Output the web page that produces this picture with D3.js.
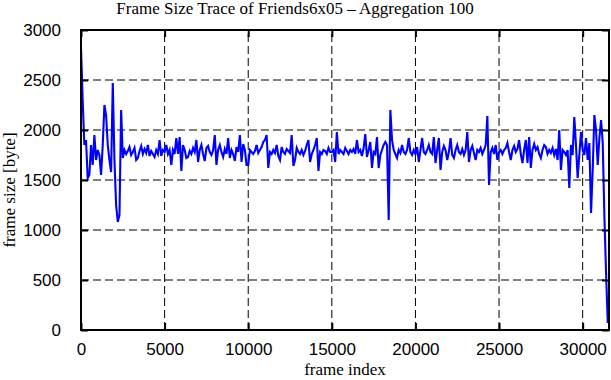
<!DOCTYPE html>
<html>
<head>
  <meta charset="utf-8">
  <title>Frame Size Trace of Friends6x05</title>
  <script src="https://d3js.org/d3.v7.min.js"></script>
  <style>
    body {
      margin: 0;
      background: #fff;
    }
    svg {
      display: block;
      font-family: "Liberation Serif", "DejaVu Serif", serif;
    }
    .grid line {
      stroke: #000;
      stroke-width: 1;
      stroke-dasharray: 8, 4;
    }
    .axis path {
      display: none;
    }
    .axis line {
      stroke: #000;
      stroke-width: 2;
    }
    .axis text {
      font-size: 17px;
      fill: #000;
    }
    .trace {
      fill: none;
      stroke: #0000ff;
      stroke-width: 2.1;
      stroke-linejoin: miter;
    }
  </style>
</head>
<body>
<svg width="611" height="380"></svg>
<script>
  const title = 'Frame Size Trace of Friends6x05 \u2013 Aggregation 100';
  const xLabel = 'frame index';
  const yLabel = 'frame size [byte]';

  // one value per 100 frames
  const aggregation = 100;
  const xTicks = [0, 5000, 10000, 15000, 20000, 25000, 30000];
  const yTicks = [0, 500, 1000, 1500, 2000, 2500, 3000];

  const frameSize = [
    2820, 2300, 1850, 1900, 1520, 1550, 1850, 1650, 1950, 1700,
    1800, 1750, 1550, 1850, 2250, 2150, 1850, 1700, 1580, 2470,
    1700, 1250, 1080, 1150, 2200, 1720, 1800, 1760, 1790, 1830,
    1750, 1780, 1820, 1700, 1720, 1790, 1840, 1760, 1810, 1770,
    1850, 1740, 1790, 1760, 1730, 1800, 1760, 1900, 1740, 1800,
    1780, 1850, 1760, 1800, 1650, 1800, 1760, 1920, 1760, 1930,
    1590, 1850, 1800, 1720, 1730, 1790, 1760, 1820, 1780, 1900,
    1680, 1800, 1850, 1760, 1690, 1820, 1840, 1780, 1750, 1800,
    1950, 1650, 1800, 1850, 1780, 1730, 1810, 1760, 1920, 1720,
    1800, 1760, 1690, 1830, 1780, 1950, 1680, 1860, 1800, 1650,
    1650, 1800, 1780, 1760, 1790, 1850, 1770, 1800, 1830, 1880,
    1900, 1950, 1620, 1780, 1760, 1800, 1770, 1850, 1740, 1700,
    1830, 1780, 1760, 1810, 1790, 1770, 1950, 1640, 1700, 1820,
    1780, 1760, 1800, 1750, 1790, 1850, 1900, 1680, 1760, 1800,
    1850, 1920, 1590, 1780, 1760, 1800, 1790, 1760, 1820, 1780,
    1780, 1800, 1680, 1980, 1760, 1800, 1780, 1760, 1820, 1790,
    1760, 1800, 1780, 1810, 1760, 1900, 1780, 1800, 1740, 1820,
    1960, 1730, 1800, 1880, 1620, 1780, 1760, 1930, 1620, 1750,
    1800, 1850, 1880, 1850, 1100, 2200, 1900, 1800, 1760, 1720,
    1800, 1770, 1850, 1780, 1760, 1800, 1920, 1780, 1750, 1800,
    1760, 1830, 1680, 1800, 1920, 1780, 1760, 1800, 1850, 1780,
    1760, 1930, 1670, 1800, 1920, 1600, 1780, 1840, 1800, 1700,
    1780, 1920, 1750, 1720, 1800, 1850, 1780, 1760, 1810, 1750,
    1800, 1980, 1680, 1800, 1840, 1770, 1700, 1800, 1780, 1820,
    1760, 1800, 1850, 2140, 1450, 1780, 1820, 1760, 1850, 1700,
    1780, 1800, 1760, 1800, 1820, 1870, 1780, 1700, 1800, 1840,
    1780, 1810, 1900, 1760, 1670, 1800, 1900, 1670, 1930, 1620,
    1800, 1860, 1800, 1830, 1760, 1720, 1800, 1850, 1830, 1760,
    1800, 1770, 1820, 1750, 1810, 1700, 2000, 1600, 1800, 1780,
    1750, 1800, 1420, 1850, 1750, 2130, 1850, 1520, 1750, 1980,
    1800, 1750, 1920, 1700, 1870, 1170, 1600, 2150, 2000, 1650,
    1920, 2100, 1870, 1130, 570, 70
  ];

  const svg = d3.select('svg');
  const mLeft = 81, mRight = 609, mTop = 30, mBottom = 330;

  const x = d3.scaleLinear().domain([0, 31575]).range([mLeft, mRight]);
  const y = d3.scaleLinear().domain([0, 3000]).range([mBottom, mTop]);

  // dashed grid
  const grid = svg.append('g').attr('class', 'grid');
  grid.selectAll('.vx')
    .data(xTicks.filter(d => d > 0))
    .enter().append('line')
    .attr('x1', d => x(d)).attr('x2', d => x(d))
    .attr('y1', mBottom).attr('y2', mTop);
  grid.selectAll('.hy')
    .data(yTicks.filter(d => d > 0 && d < 3000))
    .enter().append('line')
    .attr('x1', mLeft).attr('x2', mRight)
    .attr('y1', d => y(d)).attr('y2', d => y(d));

  // trace
  const line = d3.line()
    .x((d, i) => x(i * aggregation))
    .y(d => y(d));
  svg.append('path')
    .datum(frameSize)
    .attr('class', 'trace')
    .attr('d', line);

  // axes, ticks pointing inward
  svg.append('g').attr('class', 'axis')
    .attr('transform', `translate(0,${mBottom})`)
    .call(d3.axisBottom(x).tickValues(xTicks).tickSize(-7).tickPadding(13).tickFormat(d3.format('d')));
  svg.append('g').attr('class', 'axis')
    .attr('transform', `translate(${mLeft},0)`)
    .call(d3.axisLeft(y).tickValues(yTicks).tickSize(-7).tickPadding(20).tickFormat(d3.format('d')));
  svg.append('g').attr('class', 'axis')
    .attr('transform', `translate(0,${mTop})`)
    .call(d3.axisTop(x).tickValues(xTicks).tickSize(-7).tickFormat(''));
  svg.append('g').attr('class', 'axis')
    .attr('transform', `translate(${mRight},0)`)
    .call(d3.axisRight(y).tickValues(yTicks).tickSize(-7).tickFormat(''));

  svg.append('rect')
    .attr('x', mLeft).attr('y', mTop)
    .attr('width', mRight - mLeft).attr('height', mBottom - mTop)
    .attr('fill', 'none')
    .attr('stroke', '#000')
    .attr('stroke-width', 2);

  // labels
  svg.append('text')
    .attr('x', 295).attr('y', 14)
    .attr('text-anchor', 'middle')
    .attr('font-size', 17)
    .text(title);
  svg.append('text')
    .attr('x', (mLeft + mRight) / 2).attr('y', 375)
    .attr('text-anchor', 'middle')
    .attr('font-size', 17)
    .text(xLabel);
  svg.append('text')
    .attr('transform', 'translate(15,190) rotate(-90)')
    .attr('text-anchor', 'middle')
    .attr('font-size', 17)
    .text(yLabel);
</script>
</body>
</html>
